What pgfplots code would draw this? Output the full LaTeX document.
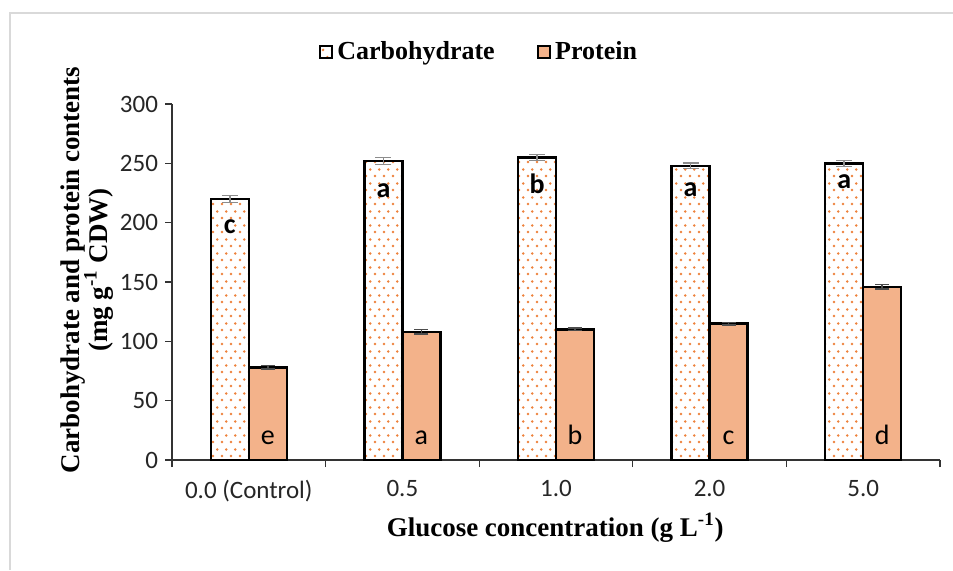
\documentclass[border=0pt]{standalone}
\usepackage{pgfplots}
\pgfplotsset{compat=1.18}
\usepackage{pgfplotstable}
\usepackage{fontspec}
\setmainfont{Liberation Serif}
\newfontfamily\calibri{Carlito}
\usetikzlibrary{patterns}
\definecolor{protfill}{RGB}{243,178,138}
\definecolor{dotc}{RGB}{238,130,60}

\pgfdeclarepatternformonly{sparsedots}{\pgfqpoint{0pt}{0pt}}{\pgfqpoint{4.6pt}{7pt}}{\pgfqpoint{4.6pt}{7pt}}{%
  \pgfpathcircle{\pgfqpoint{1.1pt}{1.6pt}}{0.75pt}
  \pgfpathcircle{\pgfqpoint{3.4pt}{5.1pt}}{0.75pt}
  \pgfusepath{fill}}

\pgfplotstableread{
x carb cerr clabY clab prot perr plabY plab
0 220 3.0 191 c 78  1.5 13 e
1 252 3.0 221 a 108 2.0 13 a
2 255 2.5 225 b 110 1.0 13 b
3 248 2.5 222 a 115 1.0 13 c
4 250 2.5 229 a 146 2.0 13 d
}\data

\begin{document}
\begin{tikzpicture}
\path[use as bounding box] (0,0) rectangle (476.5pt,285pt);
\draw[black!15, line width=1pt] (5pt,0) -- (5pt,278.5pt) -- (476.5pt,278.5pt);
\begin{axis}[
  at={(86pt,55pt)}, anchor=south west,
  scale only axis, width=384pt, height=178pt,
  ybar, bar width=0.247,
  xmin=-0.5, xmax=4.5, ymin=0, ymax=300,
  axis lines=left, axis line style={-, black!80, line width=0.6pt},
  tick align=outside, major tick length=3.5pt,
  tick style={black!80, line width=0.6pt},
  xtick={-0.5,0.5,1.5,2.5,3.5,4.5},
  x tick label as interval,
  xticklabels={0.0 (Control),0.5,1.0,2.0,5.0},
  ytick={0,50,...,300},
  /pgf/number format/assume math mode=true,
  ticklabel style={font=\calibri\fontsize{12.5}{14}\selectfont, text=black!85},
  xticklabel style={yshift=-3pt},
  xlabel={\textbf{Glucose concentration (g L\textsuperscript{-1})}},
  xlabel style={font=\fontsize{13.5}{15}\selectfont, at={(axis description cs:0.499,-0.19)}, anchor=center},
  ylabel={\textbf{Carbohydrate and protein contents}\\[-1.5pt]\textbf{(mg g\textsuperscript{-1} CDW)}},
  ylabel style={font=\fontsize{13.5}{12.5}\selectfont, align=center, at={(axis description cs:-0.111,0.534)}, anchor=center},
  legend columns=2,
  legend style={at={(axis description cs:0.401,1.146)}, anchor=center, draw=none,
    font=\bfseries\fontsize{13}{15}\selectfont,
    /tikz/every even column/.append style={column sep=19pt}},
  legend image code/.code={\draw[#1, line width=1.2pt] (0pt,-3pt) rectangle (6pt,3pt);},
]
\addplot[bar shift=-0.1235, draw=black, line width=1.2pt,
  fill=white, postaction={pattern=sparsedots, pattern color=dotc},
  error bars/.cd, y dir=both, y explicit,
  error bar style={black!45, line width=0.8pt},
  error mark options={rotate=90, mark size=4pt, black!45, line width=0.8pt}]
  table[x=x, y=carb, y error=cerr] {\data};
\addlegendentry{Carbohydrate}
\addplot[bar shift=0.1235, draw=black, line width=1.2pt,
  fill=protfill,
  error bars/.cd, y dir=both, y explicit,
  error bar style={black!70, line width=0.8pt},
  error mark options={rotate=90, mark size=3.5pt, black!70, line width=0.8pt}]
  table[x=x, y=prot, y error=perr] {\data};
\addlegendentry{Protein}
\addplot[bar shift=-0.1235, draw=none, fill=none, forget plot, nodes near coords, point meta=explicit symbolic,
  every node near coord/.append style={anchor=base, inner sep=0pt, yshift=0pt, font=\calibri\bfseries\fontsize{14}{16}\selectfont}]
  table[x=x, y=clabY, meta=clab] {\data};
\addplot[bar shift=0.1235, draw=none, fill=none, forget plot, nodes near coords, point meta=explicit symbolic,
  every node near coord/.append style={anchor=base, inner sep=0pt, yshift=0pt, font=\calibri\fontsize{14}{16}\selectfont}]
  table[x=x, y=plabY, meta=plab] {\data};
\end{axis}
\end{tikzpicture}
\end{document}
